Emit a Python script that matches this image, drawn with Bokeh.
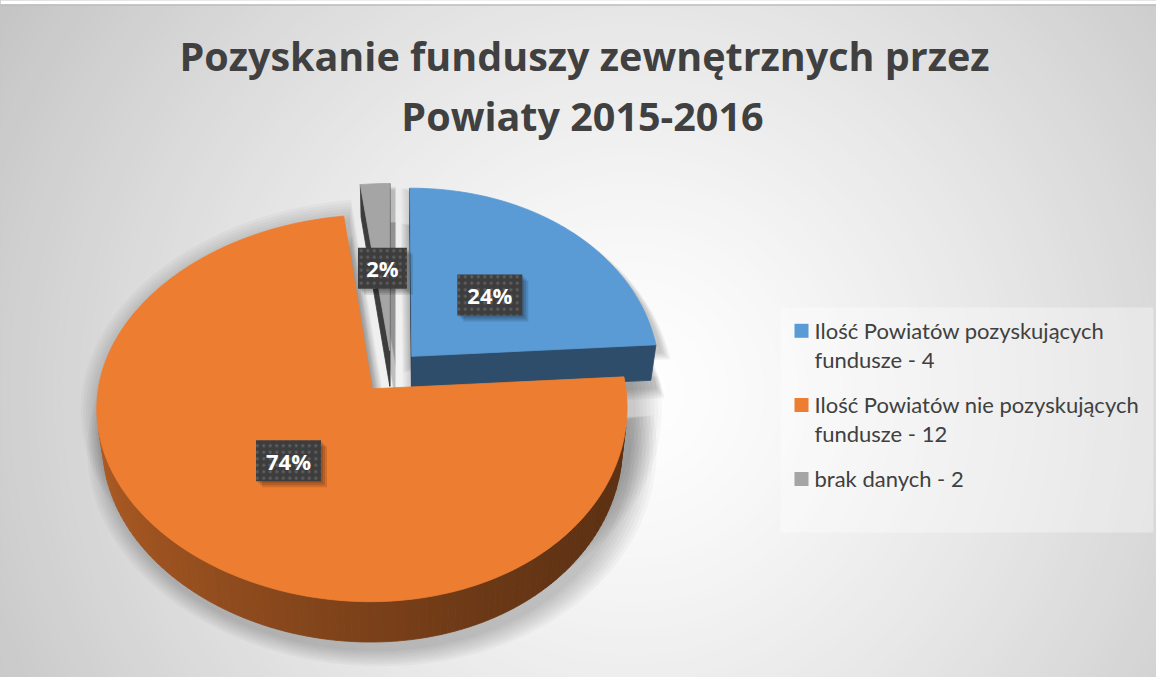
import math
import textwrap
import numpy as np
from bokeh.plotting import figure
from bokeh.models import Range1d
from bokeh.core.properties import value
from bokeh.embed import file_html
from bokeh.resources import INLINE

# ---------------- data ----------------
title_lines = ["Pozyskanie funduszy zewnętrznych przez", "Powiaty 2015-2016"]
category_names = ["Ilość Powiatów pozyskujących fundusze",
                  "Ilość Powiatów nie pozyskujących fundusze",
                  "brak danych"]
counts = [4, 12, 2]
shares = [24, 74, 2]          # percentage shown on the slices
pct_labels = ["24%", "74%", "2%"]
colors = ["#5B9BD5", "#ED7D31", "#A5A5A5"]

# ---------------- helpers ----------------
def PY(py):
    """page pixel y -> data y"""
    return 693.0 - py

def shade(hexc, s):
    r, g, b = int(hexc[1:3], 16), int(hexc[3:5], 16), int(hexc[5:7], 16)
    return "#%02x%02x%02x" % (max(0, min(255, int(r * s))),
                              max(0, min(255, int(g * s))),
                              max(0, min(255, int(b * s))))

p = figure(width=1156, height=677, x_range=Range1d(8, 1164), y_range=Range1d(8, 685),
           x_axis_type=None, y_axis_type=None, output_backend="svg",
           toolbar_location=None, min_border=0)
p.outline_line_color = None
p.background_fill_color = "white"
p.border_fill_color = "white"

# ---------------- background radial gradient ----------------
GX, GY = 640.0, 400.0
radii = np.linspace(790, 8, 90)
levels = 255 - 60 * np.clip((radii - 5) / 760.0, 0, 1) ** 1.3
ring_cols = ["#%02x%02x%02x" % (int(l), int(l), int(l)) for l in levels]
p.ellipse(x=GX, y=PY(GY), width=2 * radii, height=2 * radii,
          fill_color=ring_cols, line_color=None)
# white strip above chart area + top border
p.patch([8, 1164, 1164, 8], [PY(7), PY(7), PY(12), PY(12)], fill_color="white", line_color=None)
p.line([8, 1164], [PY(12.5), PY(12.5)], line_color="#bdbdbd", line_width=1.5)

# ---------------- 3D pie geometry ----------------
CX, CY = 399.0, 379.5
AX, BX = 260.0, 10.0
KY = 188.0
PERSP = 0.10
THICK = 36.0
XCAM, ECAM = 405.0, 0.02
EXPLODE = 0.115
LABEL_R = 0.47


def proj(X, Z, h):
    f = 1.0 / (1.0 - PERSP * Z)
    x = CX + X * (AX - BX * X) * f
    y = CY + KY * Z * f + h * THICK * f
    x = x + (XCAM - x) * ECAM * h
    return x, y


def area(pts):
    s = 0.0
    n = len(pts)
    for i in range(n):
        x1, y1 = pts[i]
        x2, y2 = pts[(i + 1) % n]
        s += x1 * y2 - x2 * y1
    return 0.5 * s


total = float(sum(shares))
bounds = np.concatenate([[0.0], np.cumsum(shares)]) / total * 360.0

slices = []
for i in range(len(shares)):
    s, e = bounds[i], bounds[i + 1]
    m = 0.5 * (s + e)
    mr = math.radians(m)
    ox, oz = EXPLODE * math.sin(mr), -EXPLODE * math.cos(mr)
    nseg = max(2, int((e - s) / 1.5) + 2)
    th = np.linspace(s, e, nseg)
    arc = [(ox + math.sin(math.radians(t)), oz - math.cos(math.radians(t))) for t in th]
    slices.append(dict(i=i, s=s, e=e, m=m, ox=ox, oz=oz, th=th, arc=arc))

order = sorted(range(len(slices)), key=lambda k: slices[k]["oz"])

shadow_xs, shadow_ys = [], []
face_xs, face_ys, face_cols = [], [], []

for k in order:
    sl = slices[k]
    col = colors[sl["i"]]
    apex = (sl["ox"], sl["oz"])
    arc = sl["arc"]
    th = sl["th"]
    edges = [(apex, arc[0], "cut", sl["s"] - 90.0)]
    for j in range(len(arc) - 1):
        edges.append((arc[j], arc[j + 1], "outer", 0.5 * (th[j] + th[j + 1])))
    edges.append((arc[-1], apex, "cut", sl["e"] + 90.0))
    for P, Q, kind, phi in edges:
        quad = [proj(P[0], P[1], 0), proj(Q[0], Q[1], 0), proj(Q[0], Q[1], 1), proj(P[0], P[1], 1)]
        if area(quad) < -0.05:
            ph = math.radians(phi)
            if kind == "outer":
                sf = 0.57 - 0.17 * math.sin(ph) + 0.05 * math.cos(ph)
            else:
                sf = 0.35 + 0.15 * max(0.0, -math.cos(ph))
            face_xs.append([q[0] for q in quad])
            face_ys.append([PY(q[1]) for q in quad])
            face_cols.append(shade(col, sf))
    top = [proj(pt[0], pt[1], 0) for pt in [apex] + arc]
    face_xs.append([q[0] for q in top])
    face_ys.append([PY(q[1]) for q in top])
    face_cols.append(col)

# soft shadow: dilated silhouettes
for sl in slices:
    apex = (sl["ox"], sl["oz"])
    pts_top = [proj(pt[0], pt[1], 0) for pt in [apex] + sl["arc"]]
    pts_bot = [proj(pt[0], pt[1], 1) for pt in [apex] + sl["arc"]]
    cxs = np.mean([q[0] for q in pts_top])
    cys = np.mean([q[1] for q in pts_top]) + 18
    for j in range(8):
        sc = 1.0 + 0.012 * (j + 1)
        for pts in (pts_top, pts_bot):
            shadow_xs.append([cxs + (q[0] - cxs) * sc + 5 for q in pts])
            shadow_ys.append([PY(cys + (q[1] - cys) * sc + 7) for q in pts])

p.patches(shadow_xs, shadow_ys, fill_color="black", fill_alpha=0.028, line_color=None)
p.patches(face_xs, face_ys, fill_color=face_cols, line_color=face_cols, line_width=0.8)

# ---------------- data labels ----------------
lab_x, lab_y, box_xs, box_ys, sh_xs, sh_ys = [], [], [], [], [], []
for sl, txt in zip(slices, pct_labels):
    mr = math.radians(sl["m"])
    lx, ly = proj(sl["ox"] + LABEL_R * math.sin(mr), sl["oz"] - LABEL_R * math.cos(mr), 0)
    w = 17 + 16 * len(txt)
    h = 41
    lab_x.append(lx)
    lab_y.append(PY(ly))
    bx = [lx - w / 2, lx + w / 2, lx + w / 2, lx - w / 2]
    by = [ly - h / 2, ly - h / 2, ly + h / 2, ly + h / 2]
    box_xs.append(bx)
    box_ys.append([PY(v) for v in by])
    for d in (2, 4, 6):
        sh_xs.append([v + d for v in bx])
        sh_ys.append([PY(v + d) for v in by])

p.patches(sh_xs, sh_ys, fill_color="black", fill_alpha=0.12, line_color=None)
p.patches(box_xs, box_ys, fill_color="#3d3d3d", line_color=None,
          hatch_pattern="dot", hatch_color="#5e5e5e", hatch_scale=6.5, hatch_weight=1.2)
p.text(x=lab_x, y=lab_y, text=pct_labels, text_color="white",
       text_font=value("Open Sans"), text_font_style="bold",
       text_font_size=value("22px"), text_align="center", text_baseline="middle")

# ---------------- title ----------------
p.text(x=[592, 590], y=[PY(63.5), PY(123.5)], text=title_lines, text_color="#404040",
       text_font=value("Open Sans"), text_font_style="bold",
       text_font_size=value("39.5px"), text_align="center", text_baseline="middle")

# ---------------- legend ----------------
p.patch([788, 1161, 1161, 788], [PY(315), PY(315), PY(540), PY(540)],
        fill_color="white", fill_alpha=0.35, line_color=None)
row_centers = [338.3, 412.5, 486.5]
line_gap = 29.4
sq_xs, sq_ys = [], []
t_x, t_y, t_txt = [], [], []
for name, c, cy in zip(category_names, counts, row_centers):
    sq_xs.append([802, 816, 816, 802])
    sq_ys.append([PY(cy - 7), PY(cy - 7), PY(cy + 7), PY(cy + 7)])
    for li, line in enumerate(textwrap.wrap(f"{name} - {c}", 32)):
        t_x.append(822)
        t_y.append(PY(cy - 0.7 + li * line_gap))
        t_txt.append(line)
p.patches(sq_xs, sq_ys, fill_color=colors, line_color=None)
p.text(x=t_x, y=t_y, text=t_txt, text_color="#404040", text_font=value("Lato"),
       text_font_size=value("22px"), text_align="left", text_baseline="middle")

open("out.html", "w").write(file_html(p, INLINE))
